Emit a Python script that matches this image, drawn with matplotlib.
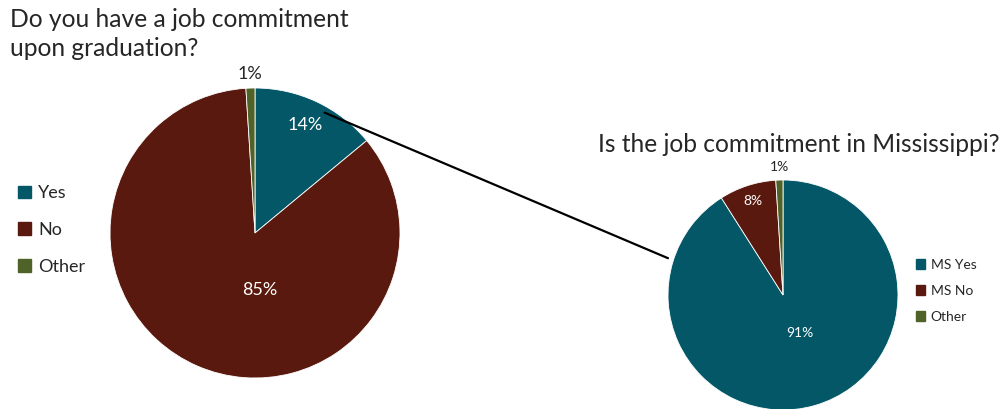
import numpy as np
import matplotlib
matplotlib.use("Agg")
import matplotlib.pyplot as plt
from matplotlib.patches import ConnectionPatch, Patch

plt.rcParams["font.family"] = ["Lato", "DejaVu Sans"]

# data
main_labels = ["Yes", "No", "Other"]
main_values = [14, 85, 1]
ms_labels = ["MS Yes", "MS No", "Other"]
ms_values = [91, 8, 1]

colors = ["#045767", "#5A190E", "#4F6228"]
text_dark = "#262626"

W, H = 1006, 409
fig = plt.figure(figsize=(W / 100, H / 100), dpi=100)


def axes_px(cx, cy, r):
    return fig.add_axes([(cx - r) / W, (H - cy - r) / H, 2 * r / W, 2 * r / H])


def draw_pie(ax, values, label_dist, overrides, fs):
    wedges, _ = ax.pie(values, colors=colors, startangle=90, counterclock=False,
                       radius=1, wedgeprops=dict(edgecolor="white", linewidth=0.6))
    for i, w in enumerate(wedges):
        if i in overrides:
            x, y = overrides[i]
            col = "white"
        else:
            ang = np.deg2rad((w.theta1 + w.theta2) / 2)
            x, y = label_dist[i] * np.cos(ang), label_dist[i] * np.sin(ang)
            col = "white" if label_dist[i] < 1 else text_dark
        ax.text(x, y, f"{values[i]}%", ha="center", va="center", color=col, fontsize=fs)
    ax.set_xlim(-1, 1)
    ax.set_ylim(-1, 1)
    ax.set_aspect("equal")
    ax.axis("off")
    return wedges


ax1 = axes_px(255, 233, 145)
draw_pie(ax1, main_values, [0.82, 0.5, 1.1], {1: (0.03, -0.39)}, 13)

ax2 = axes_px(783, 295, 115)
draw_pie(ax2, ms_values, [0.5, 0.86, 1.11], {0: (0.15, -0.33)}, 10)

con = ConnectionPatch(xyA=(0.48, 0.83), coordsA=ax1.transData,
                      xyB=(-1.0, 0.32), coordsB=ax2.transData,
                      color="black", linewidth=1.6)
fig.add_artist(con)

fig.text(10 / W, 1 - 8 / H, "Do you have a job commitment\nupon graduation?",
         ha="left", va="top", fontsize=17.7, color=text_dark, linespacing=1.3)
fig.text(1000 / W, 1 - 145 / H, "Is the job commitment in Mississippi?",
         ha="right", va="center", fontsize=17.7, color=text_dark)

handles1 = [Patch(color=c) for c in colors]
fig.legend(handles1, main_labels, loc="center left", bbox_to_anchor=(2 / W, 1 - 230 / H),
           frameon=False, fontsize=13, handlelength=0.7, handleheight=0.7,
           handletextpad=0.4, labelspacing=1.15, labelcolor=text_dark)
fig.legend(handles1, ms_labels, loc="center left", bbox_to_anchor=(903 / W, 1 - 291 / H),
           frameon=False, fontsize=10, handlelength=0.7, handleheight=0.7,
           handletextpad=0.4, labelspacing=1.0, labelcolor=text_dark)

fig.savefig("out.png", dpi=100)
